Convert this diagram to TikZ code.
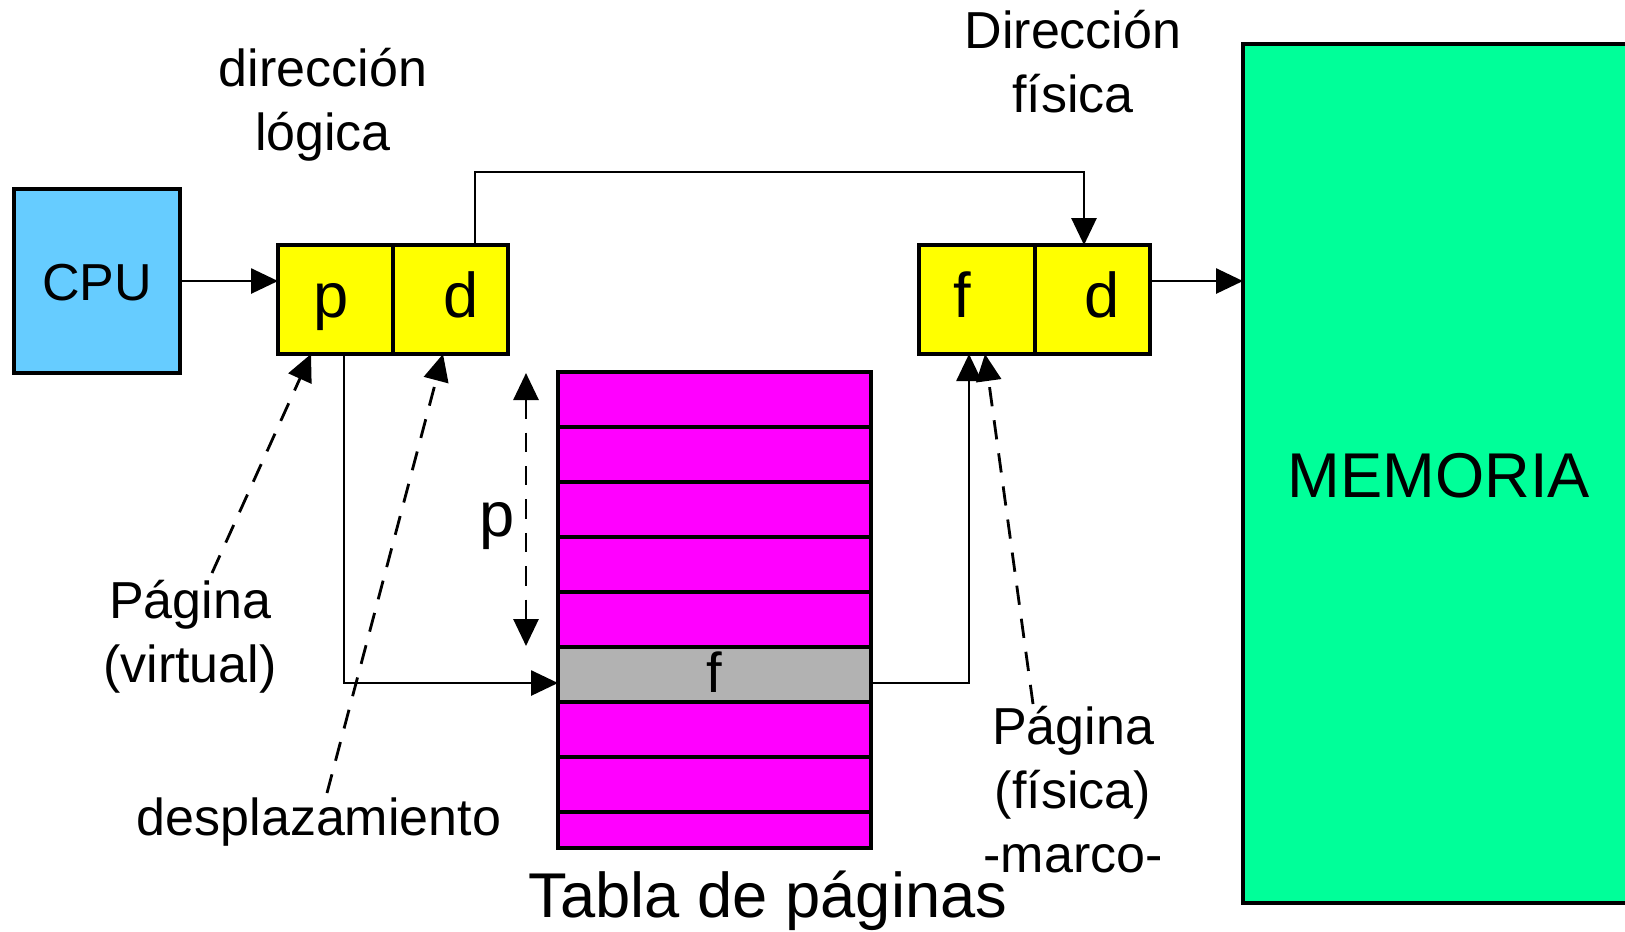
\documentclass[tikz,border=0pt]{standalone}
\usepackage{fontspec}
\setmainfont{Liberation Sans}
\usetikzlibrary{arrows.meta}
\definecolor{cpublue}{HTML}{66CCFF}
\definecolor{regyellow}{HTML}{FFFF00}
\definecolor{tabmag}{HTML}{FF00FF}
\definecolor{tabgray}{HTML}{B2B2B2}
\definecolor{memgreen}{HTML}{00FF99}
\begin{document}
\begin{tikzpicture}[x=1cm,y=1cm,
  box/.style={draw, line width=0.9pt, inner sep=0pt, outer sep=0pt, anchor=north west},
  conn/.style={line width=0.8pt, -{Triangle[length=0.27cm,width=0.25cm]}},
  dconn/.style={conn, dash pattern=on 5.5pt off 4pt},
  lbl/.style={font=\fontsize{14.8}{18}\selectfont, anchor=base, inner sep=0pt},
  big/.style={font=\fontsize{18}{21}\selectfont, anchor=base, inner sep=0pt}]
\useasboundingbox (0,0) rectangle (16.25,-9.31);
% boxes
\node[box, fill=cpublue, minimum width=1.66cm, minimum height=1.84cm] (cpu) at (0.14,-1.89) {};
\node[box, fill=regyellow, minimum width=1.15cm, minimum height=1.09cm] (lp) at (2.78,-2.45) {};
\node[box, fill=regyellow, minimum width=1.15cm, minimum height=1.09cm] (ld) at (3.93,-2.45) {};
\node[box, fill=regyellow, minimum width=1.16cm, minimum height=1.09cm] (pf) at (9.19,-2.45) {};
\node[box, fill=regyellow, minimum width=1.15cm, minimum height=1.09cm] (pd) at (10.35,-2.45) {};
\node[box, fill=memgreen, line width=1.2pt, minimum width=4.2cm, minimum height=8.59cm] (mem) at (12.43,-0.44) {};
% page table
\foreach \k/\c in {1/tabmag,2/tabmag,3/tabmag,4/tabmag,5/tabmag,7/tabmag,8/tabmag}{
  \node[box, fill=\c, minimum width=3.13cm, minimum height=0.55cm] (r\k) at (5.58,{-3.72-0.55*(\k-1)}) {};
}
\node[box, fill=tabgray, minimum width=3.13cm, minimum height=0.55cm] (fr) at (5.58,-6.47) {};
\node[box, fill=tabmag, minimum width=3.13cm, minimum height=0.36cm] (r9) at (5.58,-8.12) {};
% texts in boxes
\node[lbl] (tcpu) at (0.97,-3.00) {CPU};
\node[big] (tp) at (3.31,-3.17) {p};
\node[big] (td) at (4.61,-3.17) {d};
\node[big] (tf) at (9.62,-3.17) {f};
\node[big] (td2) at (11.02,-3.17) {d};
\node[font=\fontsize{16}{19}\selectfont, anchor=base, inner sep=0pt] (tff) at (7.14,-6.92) {f};
\node[big] (tmem) at (14.39,-4.97) {MEMORIA};
\node[big] (tpp) at (4.97,-5.36) {p};
% labels
\node[lbl] (l1a) at (3.23,-0.86) {dirección};
\node[lbl] (l1b) at (3.23,-1.50) {lógica};
\node[lbl] (l2a) at (10.73,-0.48) {Dirección};
\node[lbl] (l2b) at (10.73,-1.12) {física};
\node[lbl] (l3a) at (1.90,-6.18) {Página};
\node[lbl] (l3b) at (1.90,-6.82) {(virtual)};
\node[lbl] (l4) at (3.19,-8.35) {desplazamiento};
\node[big] (l5) at (7.68,-9.17) {Tabla de páginas};
\node[lbl] (l6a) at (10.73,-7.44) {Página};
\node[lbl] (l6b) at (10.73,-8.08) {(física)};
\node[lbl] (l6c) at (10.73,-8.72) {-marco-};
% coordinates
\coordinate (dtop) at (4.75,-2.45);
\coordinate (dtgt) at (10.84,-2.45);
\coordinate (pbot) at (3.44,-3.54);
\coordinate (fin) at (5.58,-6.83);
\coordinate (fout) at (8.71,-6.83);
\coordinate (ftgt) at (9.69,-3.54);
\coordinate (pa) at (5.26,-3.73);
\coordinate (pb) at (5.26,-6.46);
\coordinate (vs) at (2.12,-5.73);
\coordinate (vt) at (3.11,-3.54);
\coordinate (ds) at (3.27,-7.93);
\coordinate (dt) at (4.43,-3.54);
\coordinate (fs) at (10.33,-7.04);
\coordinate (ft) at (9.85,-3.54);
% connectors
\draw[conn] (cpu.east) -- (cpu.east -| lp.west);
\draw[conn] (pd.east |- cpu.east) -- (mem.west |- cpu.east);
\draw[conn] (dtop) -- ++(0,0.73) -| (dtgt);
\draw[conn] (pbot) |- (fin);
\draw[conn] (fout) -| (ftgt);
\draw[dconn, {Triangle[length=0.27cm,width=0.25cm]}-{Triangle[length=0.27cm,width=0.25cm]}] (pa) -- (pb);
\draw[dconn] (vs) -- (vt);
\draw[dconn] (ds) -- (dt);
\draw[dconn] (fs) -- (ft);
\end{tikzpicture}
\end{document}
